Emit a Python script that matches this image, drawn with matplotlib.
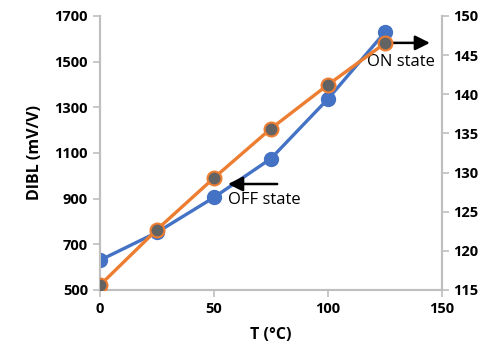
import matplotlib.pyplot as plt

# temperature (deg C)
temps = [0, 25, 50, 75, 100, 125]
# OFF state DIBL, left axis (mV/V)
dibl_off = [630, 752, 905, 1075, 1336, 1628]
# ON state, right axis
dibl_on = [115.6, 122.7, 129.3, 135.6, 141.2, 146.5]

blue = "#4472C4"
orange = "#ED7D31"
grey = "#BFBFBF"

plt.rcParams["font.family"] = ["Open Sans", "DejaVu Sans"]

fig = plt.figure(figsize=(4.92, 3.62), dpi=100)
ax = fig.add_axes([0.203, 0.199, 0.695, 0.757])
ax2 = ax.twinx()

ax.plot(temps, dibl_off, color=blue, lw=2.4, marker="o", ms=10,
        mfc=blue, mec=blue, zorder=3)
ax2.plot(temps, dibl_on, color=orange, lw=2.4, marker="o", ms=10,
         mfc="#636363", mec=orange, mew=1.5, zorder=3)

ax.set_xlim(0, 150)
ax.set_ylim(500, 1700)
ax2.set_ylim(115, 150)
ax.set_xticks([0, 50, 100, 150])
ax.set_yticks(range(500, 1701, 200))
ax2.set_yticks(range(115, 151, 5))

for a in (ax, ax2):
    a.spines["top"].set_visible(False)
    for s in ("left", "right", "bottom"):
        a.spines[s].set_color(grey)
        a.spines[s].set_linewidth(1.5)
    a.tick_params(colors=grey, labelcolor="black", length=5, width=1.2,
                  labelsize=10.5)
    for lab in a.get_xticklabels() + a.get_yticklabels():
        lab.set_fontweight("bold")

ax.set_xlabel("T (°C)", fontsize=11.5, fontweight="bold", labelpad=8)
ax.set_ylabel("DIBL (mV/V)", fontsize=11.5, fontweight="bold", labelpad=8)

ax.annotate("", xy=(55, 964), xytext=(79, 964),
            arrowprops=dict(arrowstyle="-|>", color="black", lw=1.8,
                            mutation_scale=22))
ax.text(56, 894, "OFF state", fontsize=12, ha="left", va="center")

ax.annotate("", xy=(146, 1582), xytext=(123, 1582),
            arrowprops=dict(arrowstyle="-|>", color="black", lw=1.8,
                            mutation_scale=22))
ax.text(117, 1498, "ON state", fontsize=12, ha="left", va="center")

fig.savefig("out.png", dpi=100)
